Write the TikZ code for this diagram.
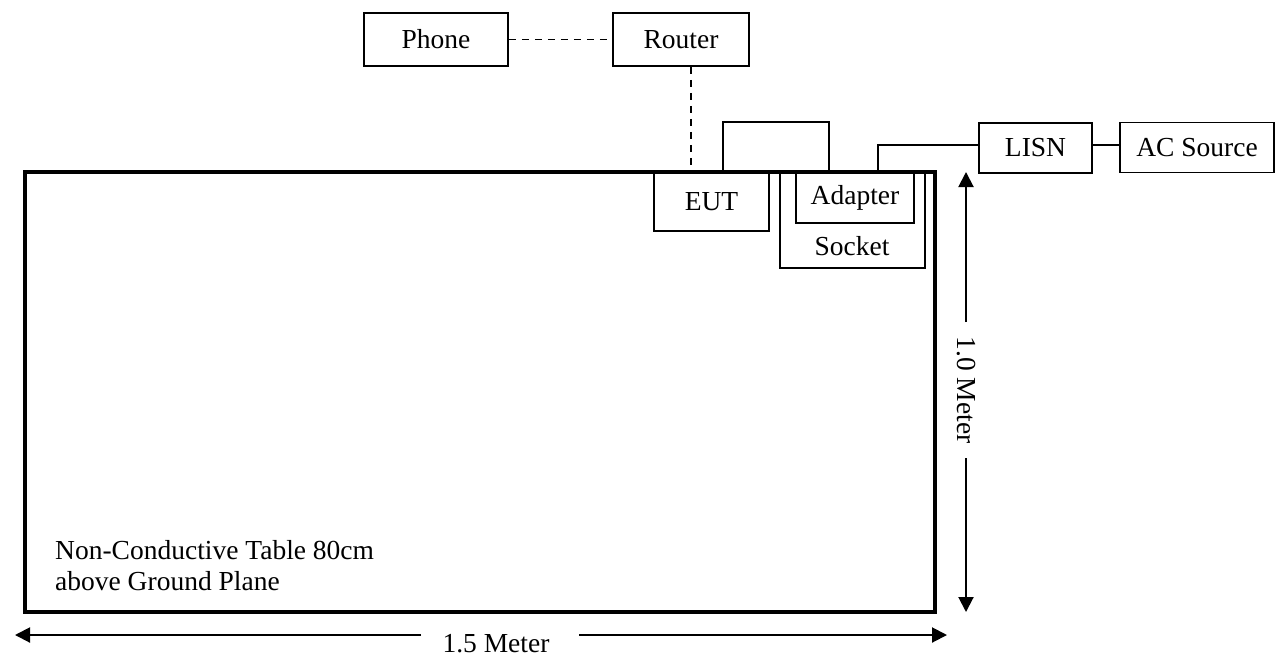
\documentclass[tikz,border=0pt]{standalone}
\usepackage{fontspec}
\setmainfont{Liberation Serif}
\usetikzlibrary{arrows.meta}
\begin{document}
\begin{tikzpicture}[x=1pt,y=-1pt,
  box/.style={draw,line width=1.5pt,inner sep=0pt,font=\fontsize{27.5}{31}\selectfont},
  lbl/.style={inner sep=0pt,font=\fontsize{27.5}{31}\selectfont},
  wire/.style={line width=1.5pt},
  dwire/.style={line width=1.6pt,dash pattern=on 7.5pt off 5.5pt},
  dim/.style={line width=2pt,-{Triangle[length=15pt,width=15pt]}}]
\useasboundingbox (0,0) rectangle (1277,657);
% boxes
\node[box,minimum width=144pt,minimum height=53pt] (phone) at (436,39.5) {Phone};
\node[box,minimum width=136pt,minimum height=53pt] (router) at (681,39.5) {Router};
\node[box,minimum width=113pt,minimum height=50pt] (lisn) at (1035.5,148) {LISN};
\node[box,minimum width=154pt,minimum height=50pt] (ac) at (1197,147.5) {AC Source};
\node[box,minimum width=115pt,minimum height=59pt] (eut) at (711.5,201.5) {EUT};
\node[box,minimum width=145pt,minimum height=96pt] (socket) at (852.5,220) {};
\node[lbl,anchor=base] (socketlbl) at (852,255) {Socket};
\node[box,line width=2.5pt,minimum width=118pt,minimum height=51pt] (adapter) at (855,197.5) {Adapter};
% table
\node[draw,line width=4pt,inner sep=0pt,minimum width=910pt,minimum height=440pt] (table) at (480,392) {};
\node[lbl,anchor=base west,align=left] (tabletxt) at (55,590) {Non-Conductive Table 80cm\\above Ground Plane};
% connectors
\draw[dwire] (phone.east) -- (router.west);
\coordinate (rd) at (691,0);
\draw[dwire] (router.south -| rd) -- (eut.north -| rd);
\coordinate (l1) at (723,122);
\coordinate (l2) at (829,122);
\draw[wire] (eut.north -| l1) -- (l1) -- (l2) -- (adapter.north -| l2);
\coordinate (p1) at (878,145);
\draw[wire] (adapter.north -| p1) -- (p1) -- (lisn.west |- p1);
\draw[wire] (lisn.east |- p1) -- (ac.west |- p1);
% dimension arrows
\coordinate (vt) at (966,172);
\coordinate (vb) at (966,612);
\node[lbl,rotate=-90] (vtxt) at (966,390) {1.0 Meter};
\coordinate (vg1) at (966,322);
\coordinate (vg2) at (966,458);
\draw[dim] (vg1) -- (vt);
\draw[dim] (vg2) -- (vb);
\coordinate (hl) at (15,635);
\coordinate (hr) at (947,635);
\node[lbl,anchor=base] (htxt) at (496,652) {1.5 Meter};
\coordinate (hg1) at (421,635);
\coordinate (hg2) at (579,635);
\draw[dim] (hg1) -- (hl);
\draw[dim] (hg2) -- (hr);
\end{tikzpicture}
\end{document}
